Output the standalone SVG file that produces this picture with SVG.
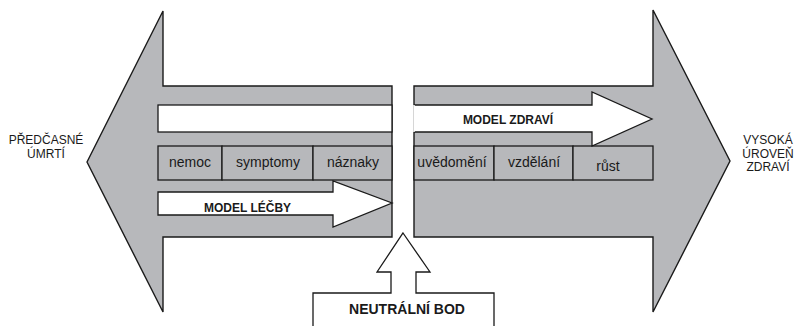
<svg xmlns="http://www.w3.org/2000/svg" width="798" height="326" viewBox="0 0 798 326">
<style>
.big{fill:#b7b8bb;stroke:#1a1a1a;stroke-width:1.4;stroke-linejoin:miter}
.cell{fill:#b7b8bb;stroke:#1a1a1a;stroke-width:1.3}
.wh{fill:#fff;stroke:#1a1a1a;stroke-width:1.3;stroke-linejoin:miter}
text{font-family:"Liberation Sans",Arial,sans-serif;fill:#1a1a1a}
.lbl{font-size:12px;text-anchor:middle}
.ct{font-size:14px;text-anchor:middle}
.bd{font-size:12px;font-weight:bold;text-anchor:middle}
</style>
<g id="left-arrow">
<path class="big" d="M87,162 L163,11 L163,86 L392,86 L392,237 L163,237 L163,312 Z"/>
<rect class="wh" x="158" y="105" width="234" height="27"/>
</g>
<g id="right-arrow">
<path class="big" d="M414,86 L653,86 L653,10 L730,161 L653,312 L653,237 L414,237 Z"/>
</g>
<g id="cells-left">
<rect class="cell" x="158" y="146" width="64" height="34"/>
<text class="ct" x="190" y="167">nemoc</text>
<rect class="cell" x="222" y="146" width="91" height="34"/>
<text class="ct" x="268" y="167">symptomy</text>
<rect class="cell" x="313" y="146" width="79" height="34"/>
<text class="ct" x="353" y="167">náznaky</text>
</g>
<g id="cells-right">
<rect class="cell" x="414" y="146" width="80" height="34"/>
<text class="ct" x="452" y="167">uvědomění</text>
<rect class="cell" x="494" y="146" width="79" height="34"/>
<text class="ct" x="534" y="167">vzdělání</text>
<rect class="cell" x="573" y="146" width="80" height="34"/>
<text class="ct" x="608" y="171">růst</text>
</g>
<g id="model-lecby">
<path class="wh" d="M158,192 L333,192 L333,181 L392,203 L333,227 L333,215 L158,215 Z"/>
<text class="bd" x="247.5" y="212">MODEL LÉČBY</text>
</g>
<g id="model-zdravi">
<path class="wh" d="M414,105 L592,105 L592,92 L652,119 L592,146 L592,132 L414,132" style="stroke-linejoin:miter"/>
<path d="M414,105 L414,132" fill="none" stroke="#fff" stroke-width="1.5"/>
<text class="bd" x="508" y="124">MODEL ZDRAVÍ</text>
</g>
<g id="neutral">
<path class="wh" d="M403,233 L430,272 L416,272 L416,293 L494,293 L494,330 L313,330 L313,293 L391,293 L391,272 L377,272 Z"/>
<text class="bd" x="407" y="314" style="font-size:14px">NEUTRÁLNÍ BOD</text>
</g>
<g id="label-left">
<text class="lbl" x="46" y="144">PŘEDČASNÉ</text>
<text class="lbl" x="46" y="158">ÚMRTÍ</text>
</g>
<g id="label-right">
<text class="lbl" x="768" y="144">VYSOKÁ</text>
<text class="lbl" x="768" y="157.5">ÚROVEŇ</text>
<text class="lbl" x="768" y="171">ZDRAVÍ</text>
</g>
<g id="connectors"/>
</svg>
